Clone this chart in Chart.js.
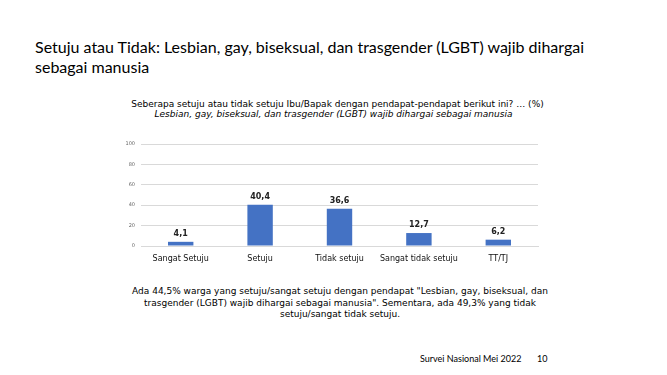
<!DOCTYPE html>
<html><head><meta charset="utf-8">
<script src="https://cdn.jsdelivr.net/npm/chart.js@4.4.0/dist/chart.umd.min.js"></script>
<style>
html,body{margin:0;padding:0;background:#fff;width:667px;height:375px;overflow:hidden;position:relative}
.t{position:absolute;white-space:nowrap;color:#000}
#title{left:35px;top:37px;font-family:Lato,"Liberation Sans",sans-serif;font-size:16px;line-height:20px;white-space:normal;width:600px}
#sub1{left:4px;width:667px;text-align:center;top:99px;font-family:"DejaVu Sans",sans-serif;font-size:9px}
#sub2{left:0;width:667px;text-align:center;top:109px;font-family:"DejaVu Sans",sans-serif;font-size:9px;font-style:italic}
#note{left:0;width:680px;text-align:center;top:286px;font-family:"DejaVu Sans",sans-serif;font-size:9px;line-height:11.5px}
#foot{left:420px;top:353px;font-family:Lato,"Liberation Sans",sans-serif;font-size:9px}
#foot span{position:absolute;left:117px;top:0}
#wrap{position:absolute;left:100px;top:135px;width:450px;height:135px}
</style></head>
<body>
<div id="title" class="t">Setuju atau Tidak: Lesbian, gay, biseksual, dan trasgender (LGBT) wajib dihargai sebagai manusia</div>
<div id="sub1" class="t">Seberapa setuju atau tidak setuju Ibu/Bapak dengan pendapat-pendapat berikut ini? … (%)</div>
<div id="sub2" class="t">Lesbian, gay, biseksual, dan trasgender (LGBT) wajib dihargai sebagai manusia</div>
<div id="wrap"><canvas id="c"></canvas></div>
<div id="note" class="t">Ada 44,5% warga yang setuju/sangat setuju dengan pendapat "Lesbian, gay, biseksual, dan<br>trasgender (LGBT) wajib dihargai sebagai manusia". Sementara, ada 49,3% yang tidak<br>setuju/sangat tidak setuju.</div>
<div id="foot" class="t">Survei Nasional Mei 2022<span>10</span></div>
<script>
const categories = ["Sangat Setuju","Setuju","Tidak setuju","Sangat tidak setuju","TT/TJ"];
const values = [4.1, 40.4, 36.6, 12.7, 6.2];
const yTicks = [0,20,40,60,80,100];

const labelPlugin = {
  id:'vals',
  afterDatasetsDraw(chart){
    const ctx = chart.ctx;
    const meta = chart.getDatasetMeta(0);
    ctx.save();
    ctx.font = 'bold 8px "DejaVu Sans"';
    ctx.fillStyle = '#222';
    ctx.textAlign = 'center';
    ctx.textBaseline = 'bottom';
    meta.data.forEach((el,i)=>{
      ctx.fillText(values[i].toFixed(1).replace('.',','), el.x, el.y - 4);
    });
    ctx.restore();
  }
};

new Chart(document.getElementById('c'),{
  type:'bar',
  data:{labels:categories,datasets:[{data:values,backgroundColor:'#4472C4',borderWidth:0,categoryPercentage:1,barPercentage:0.32}]},
  options:{
    responsive:true,maintainAspectRatio:false,animation:false,
    layout:{padding:{top:7,right:12,left:0,bottom:0}},
    plugins:{legend:{display:false},tooltip:{enabled:false}},
    scales:{
      y:{min:0,max:100,
        afterBuildTicks(s){s.ticks = yTicks.map(v=>({value:v}));},
        afterFit(s){s.width=41;},
        ticks:{font:{family:'DejaVu Sans',size:5},color:'#666',padding:6},
        grid:{color:'#d9d9d9',drawTicks:false,lineWidth:1},
        border:{display:false}},
      x:{afterFit(s){s.height=24;},
        ticks:{font:{family:'DejaVu Sans',size:8},color:'#111',padding:0,maxRotation:0,autoSkip:false},
        grid:{display:false},
        border:{color:'#d9d9d9'}}
    }
  },
  plugins:[labelPlugin]
});
</script>
</body></html>
